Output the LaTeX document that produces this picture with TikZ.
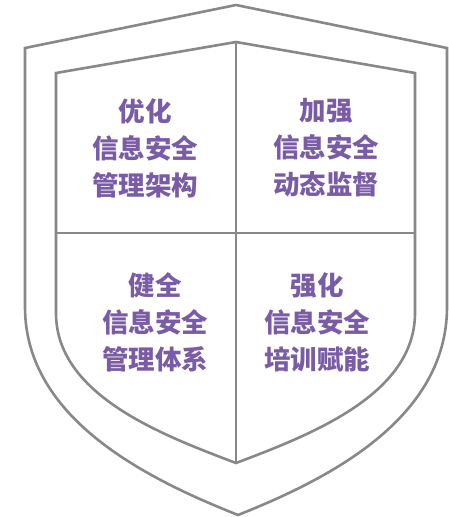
\documentclass[tikz,border=0pt]{standalone}
\usepackage{fontspec}
\newfontfamily\cjk{Noto Sans CJK SC}
\definecolor{shieldgray}{RGB}{136,136,136}
\definecolor{textpurple}{RGB}{122,92,166}
\tikzset{
  edge/.style={draw=shieldgray, line width=2.6pt, line join=miter},
  label/.style={text=textpurple, align=center, font=\cjk\bfseries\fontsize{26.5}{37}\selectfont}
}

\begin{document}
\begin{tikzpicture}[x=1pt, y=-1pt]
  \useasboundingbox (0, 0) rectangle (449, 517);

  % outer shield
  \draw[edge] (236, 5) -- (447, 48) -- (447, 307)
  .. controls (447, 420) and (326, 480) .. (238, 515)
  .. controls (150, 480) and (25, 420) .. (25, 307) -- (25, 48) -- cycle;

  % inner shield
  \draw[edge] (236, 42) -- (415, 73) -- (415, 313)
  .. controls (415, 395) and (310, 435) .. (236, 463)
  .. controls (162, 435) and (56, 395) .. (56, 313) -- (56, 73) -- cycle;

  % dividers
  \draw[edge] (236, 42) -- (236, 463);
  \draw[edge] (56, 233) -- (415, 233);

  \node[label] (ul) at (145, 148) {优化\\信息安全\\管理架构};
  \node[label] (ur) at (326, 148) {加强\\信息安全\\动态监督};
  \node[label] (ll) at (155, 322) {健全\\信息安全\\管理体系};
  \node[label] (lr) at (317, 322) {强化\\信息安全\\培训赋能};

\end{tikzpicture}
\end{document}
